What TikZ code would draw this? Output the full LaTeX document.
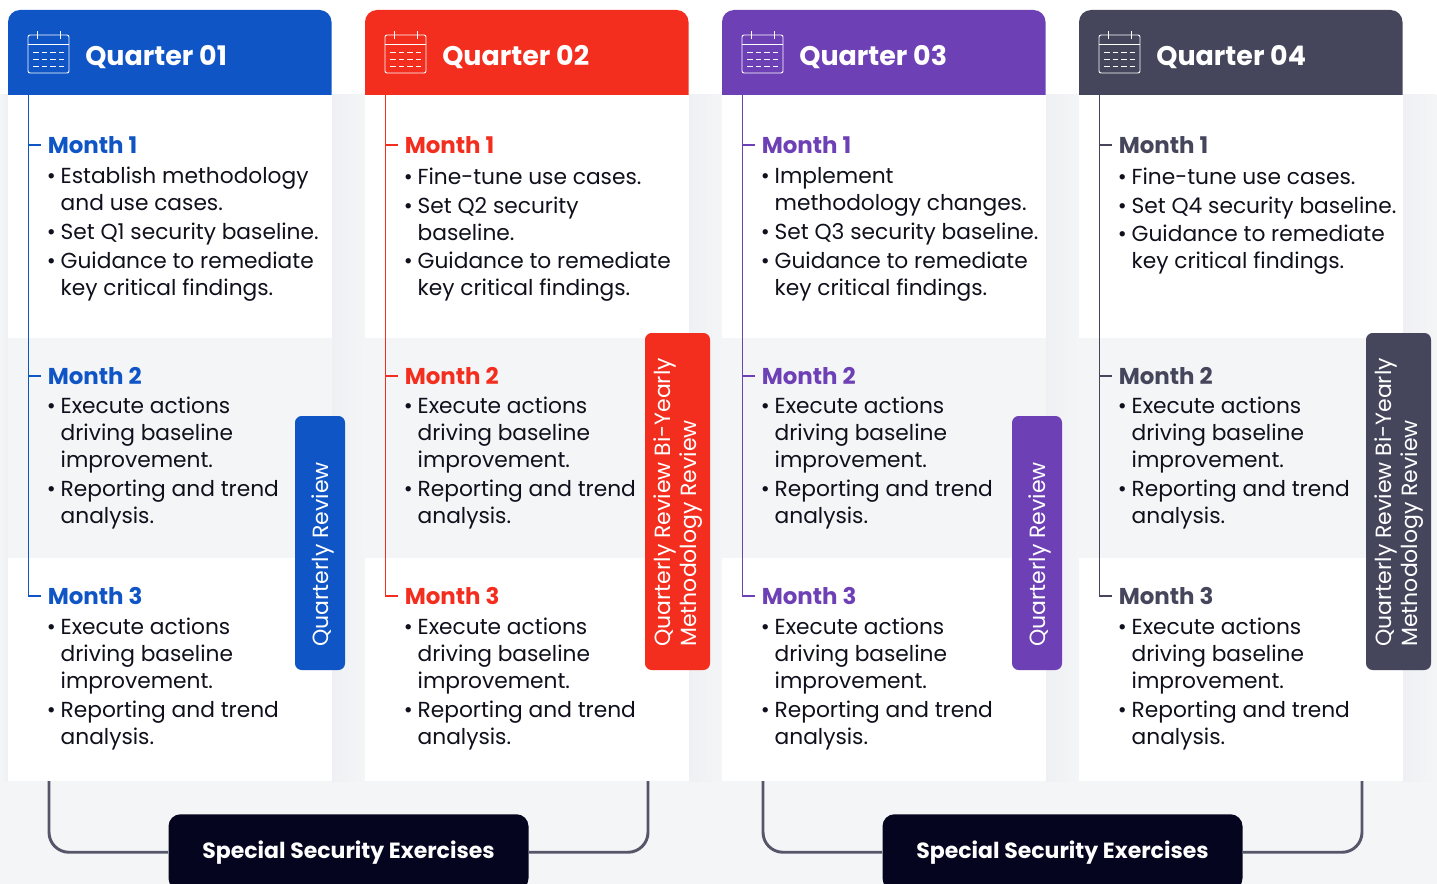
\documentclass[tikz,border=0pt]{standalone}
\usepackage{fontspec}
\setmainfont{Poppins}
\definecolor{pagegray}{HTML}{F4F5F7}
\definecolor{gapgray}{HTML}{EFF0F3}
\definecolor{inkblack}{HTML}{10101C}
\definecolor{navybox}{HTML}{05051F}
\definecolor{bracketgray}{HTML}{55566A}
\definecolor{qblue}{HTML}{0F55C5}
\definecolor{qred}{HTML}{F32E1F}
\definecolor{qpurple}{HTML}{6E40B5}
\definecolor{qdark}{HTML}{45465C}
\tikzset{
  bartitle/.style={anchor=west,inner sep=0pt,text=white,font=\fontsize{20.2}{24}\selectfont\bfseries},
  monthhead/.style={anchor=west,inner sep=0pt,font=\fontsize{17.2}{20}\selectfont\bfseries},
  pointtext/.style={anchor=north west,inner sep=0pt,align=left,text=inkblack,
    font=\fontsize{16.3}{20.25}\selectfont,
    execute at begin node={\rule{0pt}{14pt}}},
  reviewbar/.style={draw=none,rounded corners=5pt},
  reviewtext/.style={anchor=south west,rotate=90,inner sep=0pt,align=left,text=white,
    font=\fontsize{16.5}{19.5}\selectfont},
  specialbox/.style={fill=navybox,rounded corners=9pt,text=white,inner sep=0pt,
    minimum width=270pt,minimum height=57pt,anchor=north,font=\fontsize{16.5}{20}\selectfont\bfseries},
  bracketline/.style={bracketgray,line width=2.2pt,rounded corners=15pt},
}
% bullet hanging left of the first line
\newcommand{\hangbul}{\llap{\textbullet\hspace{3.6pt}}}
% the two bullets repeated under month 2 and month 3
\newcommand{\actionpoints}[3]{
  \node[pointtext] (#3a) at (#1,#2) {\hangbul Execute actions\\driving baseline\\improvement.};
  \node[pointtext] (#3b) at (#1,#2+83) {\hangbul Reporting and trend\\analysis.};
}
\begin{document}
\begin{tikzpicture}[x=.75pt,y=-.75pt]
  \useasboundingbox (0,0) rectangle (1437,884);
  % background bands
  \fill[pagegray] (0,95) rectangle (1437,884);
  \shade[left color=pagegray,right color=gapgray] (0,95) rectangle (8,781);

  \foreach \i/\col/\qname in {1/qblue/Quarter 01,2/qred/Quarter 02,3/qpurple/Quarter 03,4/qdark/Quarter 04} {
    \pgfmathsetmacro{\cx}{8+357*(\i-1)}
    \pgfmathsetmacro{\tx}{\cx+52.4}

    % shadow in the gap and white parts of the column
    \shade[left color=gapgray,right color=pagegray] (\cx+323,95) rectangle (\cx+357,781);
    \fill[white] (\cx,95) rectangle (\cx+323.5,338);
    \fill[pagegray] (\cx,338) rectangle (\cx+323.5,558);
    \fill[white] (\cx,558) rectangle (\cx+323.5,781);

    % header with the calendar
    \fill[\col] (\cx,95) [rounded corners=9pt] -- (\cx,10) -- (\cx+323.5,10) [sharp corners] -- (\cx+323.5,95) -- cycle;
    \draw[white,line width=.7pt,rounded corners=1.5pt] (\cx+20,35) rectangle (\cx+61,73);
    \draw[white,line width=.7pt] (\cx+20,44) -- (\cx+61,44);
    \foreach \k in {29,52} \draw[white,line width=.7pt] (\cx+\k,31) -- (\cx+\k,39);
    \foreach \r in {52,59,66}
      \draw[white,line width=.7pt,dash pattern=on 4.2pt off 2.2pt] (\cx+25,\r) -- (\cx+57,\r);
    \node[bartitle] (hdr\i) at (\cx+77,57.5) {\qname};

    % month headings
    \node[monthhead,text=\col] (mone\i) at (\cx+39.5,145) {Month 1};
    \node[monthhead,text=\col] (mtwo\i) at (\cx+39.5,376) {Month 2};
    \node[monthhead,text=\col] (mthree\i) at (\cx+39.5,596) {Month 3};

    % timeline on the left
    \coordinate (spine\i) at (\cx+20.5,95);
    \draw[\col,line width=.9pt,shorten >=5pt] (spine\i |- mone\i) -- (mone\i.west);
    \draw[\col,line width=.9pt,shorten >=5pt] (spine\i |- mtwo\i) -- (mtwo\i.west);
    \draw[\col,line width=.9pt,shorten >=5pt] (spine\i) |- (mthree\i.west);

    \actionpoints{\tx}{396.3}{mb\i}
    \actionpoints{\tx}{617.3}{mc\i}
  }

  % first month text is different per quarter
  \node[pointtext] (qa1) at (60.4,166.8) {\hangbul Establish methodology\\and use cases.};
  \node[pointtext] (qa2) at (60.4,220.3) {\hangbul Set Q1 security baseline.};
  \node[pointtext] (qa3) at (60.4,251.3) {\hangbul Guidance to remediate\\key critical findings.};

  \node[pointtext] (qb1) at (417.4,165.3) {\hangbul Fine-tune use cases.};
  \node[pointtext] (qb2) at (417.4,196.3) {\hangbul Set Q2 security\\baseline.};
  \node[pointtext] (qb3) at (417.4,251.3) {\hangbul Guidance to remediate\\key critical findings.};

  \node[pointtext] (qc1) at (774.4,166.8) {\hangbul Implement\\methodology changes.};
  \node[pointtext] (qc2) at (774.4,220.3) {\hangbul Set Q3 security baseline.};
  \node[pointtext] (qc3) at (774.4,251.3) {\hangbul Guidance to remediate\\key critical findings.};

  \node[pointtext] (qd1) at (1131.4,165.3) {\hangbul Fine-tune use cases.};
  \node[pointtext] (qd2) at (1131.4,194.3) {\hangbul Set Q4 security baseline.};
  \node[pointtext] (qd3) at (1131.4,224.3) {\hangbul Guidance to remediate\\key critical findings.};

  % review bars
  \fill[qblue,reviewbar] (295,416) rectangle (345,670);
  \node[reviewtext] (rev1) at (334,647) {Quarterly Review};
  \fill[qred,reviewbar] (645,333) rectangle (710,670);
  \node[reviewtext] (rev2) at (703,647) {Quarterly Review Bi-Yearly\\Methodology Review};
  \fill[qpurple,reviewbar] (1012,416) rectangle (1062,670);
  \node[reviewtext] (rev3) at (1051,647) {Quarterly Review};
  \fill[qdark,reviewbar] (1366,333) rectangle (1431,670);
  \node[reviewtext] (rev4) at (1424,647) {Quarterly Review Bi-Yearly\\Methodology Review};

  % special exercises with the brackets
  \coordinate (brka) at (49,781);
  \coordinate (brkb) at (648,781);
  \coordinate (brkc) at (763,781);
  \coordinate (brkd) at (1362,781);
  \node[specialbox] (spa) at (348.5,814) {Special Security Exercises};
  \node[specialbox] (spb) at (1062.5,814) {Special Security Exercises};
  \draw[bracketline] (brka) |- (spa.west);
  \draw[bracketline] (brkb) |- (spa.east);
  \draw[bracketline] (brkc) |- (spb.west);
  \draw[bracketline] (brkd) |- (spb.east);
\end{tikzpicture}
\end{document}
